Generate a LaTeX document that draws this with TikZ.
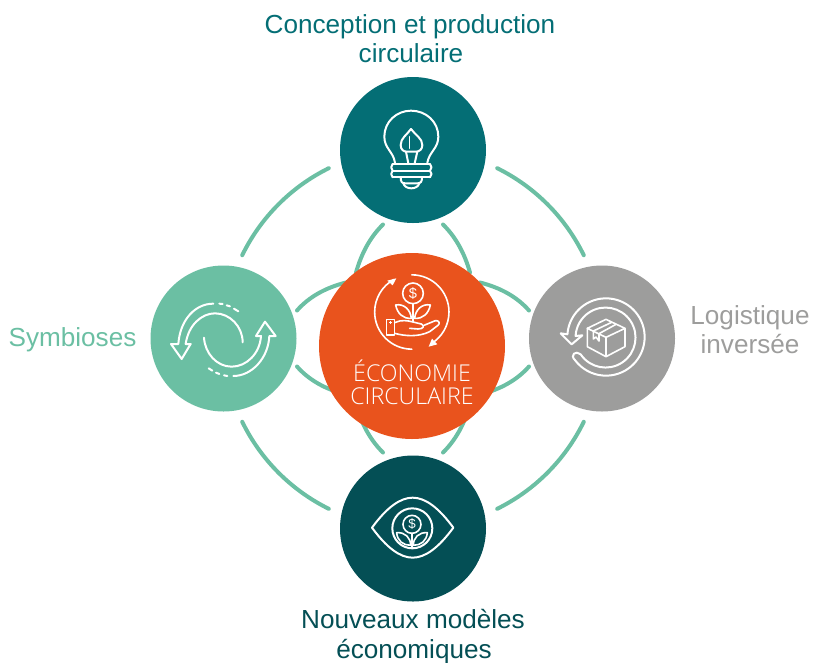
\documentclass[tikz,border=0pt]{standalone}
\usepackage{fontspec}
\setmainfont{Liberation Sans}
\newfontfamily\lightf{Open Sans Light}
\definecolor{cTop}{HTML}{046E75}
\definecolor{cLeft}{HTML}{6BBFA3}
\definecolor{cRight}{HTML}{9D9D9C}
\definecolor{cBot}{HTML}{044F55}
\definecolor{cMid}{HTML}{E9531D}
\tikzset{
  ring/.style={draw=cLeft,line width=3pt,line cap=round},
  disc/.style={circle,inner sep=0pt,minimum size=#1*0.75pt},
  icon/.style={draw=white,line width=1.5pt,line join=round,line cap=round},
  thin icon/.style={draw=white,line width=1.2pt,line join=round,line cap=round},
  lab/.style={anchor=base,inner sep=0pt,font=\fontsize{19.6pt}{21pt}\selectfont},
  midlab/.style={anchor=base,inner sep=0pt,text=white,font=\lightf\fontsize{17.4pt}{19pt}\selectfont},
}
\begin{document}
\begin{tikzpicture}[x=0.75pt,y=-0.75pt]
\useasboundingbox (0,0) rectangle (814,662);
% rings
\foreach \sx/\sy in {1/1,-1/1,1/-1,-1/-1}{
\begin{scope}[shift={(413,338.5)},xscale=\sx,yscale=\sy]
  \draw[ring] (243.7:190) arc[start angle=243.7,end angle=206,radius=190];
  \draw[ring] (-30,-114) .. controls (-42.3,-102) and (-51.3,-86) .. (-57,-66);
  \draw[ring] (-116,-28) .. controls (-104.3,-41.3) and (-88,-50.7) .. (-67,-56);
\end{scope}}
% discs
\node[disc=146,fill=cTop] (top) at (413,150) {};
\node[disc=146,fill=cLeft] (left) at (223.5,338.5) {};
\node[disc=146,fill=cRight] (right) at (602,338.5) {};
\node[disc=146,fill=cBot] (bot) at (413,528.5) {};
\node[disc=186,fill=cMid] (mid) at (412,346) {};
% bulb
\begin{scope}[shift={(340,80)},scale=0.3333]
  \draw[icon] (165,248) .. controls (160,215) and (133,205) .. (133,170) .. controls (133,125) and (170,92) .. (213,92) .. controls (258,92) and (295,125) .. (295,170) .. controls (295,205) and (268,215) .. (262,248);
  \draw[icon] (158,252) -- (270,252) (158,272) -- (270,272) (158,292) -- (270,292);
  \draw[icon] (158,252) .. controls (152,258) and (152,266) .. (158,272) .. controls (152,278) and (152,286) .. (158,292);
  \draw[icon] (270,252) .. controls (276,258) and (276,266) .. (270,272) .. controls (276,278) and (276,286) .. (270,292);
  \draw[icon] (182,292) .. controls (182,306) and (186,310) .. (196,310) -- (232,310) .. controls (242,310) and (246,306) .. (246,292);
  \draw[icon] (190,310) .. controls (195,330) and (233,330) .. (238,310);
  \draw[icon] (213,147) .. controls (200,165) and (182,175) .. (182,195) .. controls (182,208) and (190,215) .. (200,215) -- (228,215) .. controls (238,215) and (247,208) .. (247,195) .. controls (247,175) and (226,165) .. (213,147) -- cycle;
  \draw[thin icon] (208,170) -- (208,205);
  \draw[icon] (198,215) -- (205,250) (232,215) -- (224,250);
\end{scope}
% cycle arrows
\begin{scope}[shift={(150,265)},scale=0.3333]
  \draw[icon] (190,116) .. controls (135,116) and (90,165) .. (85,237) -- (63,237) -- (95,282) -- (122,237) -- (107,237) .. controls (115,180) and (155,145) .. (195,145) .. controls (240,145) and (278,185) .. (278,232);
  \draw[icon] (208,116) -- (218,117) (230,121) -- (240,124) (252,131) -- (265,139);
  \draw[icon] (162,218) .. controls (165,265) and (200,305) .. (245,305) .. controls (290,305) and (330,265) .. (333,213) -- (318,213) -- (345,170) -- (377,213) -- (358,213) .. controls (355,280) and (305,333) .. (250,333);
  \draw[icon] (232,333) -- (222,331) (208,327) -- (198,323) (187,317) -- (176,310);
\end{scope}
% box
\begin{scope}[shift={(530,265)},scale=0.3333]
  \draw[icon] ([shift={(184:116)}]228,216) arc[start angle=184,end angle=503,radius=116]
     .. controls (118,270) and (138,255) .. (152,268)
     arc[start angle=506,end angle=183,radius=90] -- (157,211) -- (125,238) -- (92,205) -- cycle;
  \draw[thin icon] (172,190) -- (228,163) -- (285,190) -- (228,217) -- cycle;
  \draw[thin icon] (172,190) -- (172,245) -- (228,275) -- (285,245) -- (285,190) (228,217) -- (228,275);
  \draw[thin icon] (190,198) -- (245,172) (207,206) -- (258,178);
  \draw[thin icon] (190,198) -- (190,222) -- (198,216) -- (207,228) -- (207,206);
\end{scope}
% eye
\begin{scope}[shift={(340,456)},scale=0.3333]
  \draw[icon] (96,215) .. controls (140,155) and (180,125) .. (218,125) .. controls (256,125) and (296,155) .. (340,215) .. controls (296,275) and (256,305) .. (218,305) .. controls (180,305) and (140,275) .. (96,215) -- cycle;
  \node[circle,draw=white,line width=1.5pt,inner sep=0pt,minimum size=30pt] (iris) at (217,217) {};
  \node[circle,draw=white,line width=1.2pt,inner sep=0pt,minimum size=13.5pt,text=white,font=\fontsize{10pt}{10pt}\selectfont] (coinA) at (216,205) {\$};
  \draw[thin icon] (216,232) -- (216,275);
  \draw[thin icon] (170,230) .. controls (195,228) and (212,245) .. (212,268) .. controls (190,268) and (172,255) .. (170,230) -- cycle;
  \draw[thin icon] (262,230) .. controls (237,228) and (220,245) .. (220,268) .. controls (242,268) and (260,255) .. (262,230) -- cycle;
\end{scope}
% central icon
\begin{scope}[shift={(318,250)},scale=0.3333]
  \draw[thin icon] ([shift={(90:111.5)}]281.5,186) arc[start angle=90,end angle=241,radius=111.5];
  \draw[thin icon] ([shift={(270:111.5)}]281.5,186) arc[start angle=270,end angle=419,radius=111.5];
  \fill[white] (235,85) -- (208,92) -- (224,106) -- cycle;
  \fill[white] (332,290) -- (358,283) -- (342,266) -- cycle;
  \node[circle,draw=white,line width=1.2pt,inner sep=0pt,minimum size=15.5pt,text=white,font=\fontsize{11pt}{11pt}\selectfont] (coinB) at (285,130) {\$};
  \draw[thin icon] (285,161) -- (285,215);
  \draw[thin icon] (233,165) .. controls (258,160) and (278,180) .. (280,205) .. controls (255,207) and (238,190) .. (233,165) -- cycle;
  \draw[thin icon] (337,165) .. controls (312,160) and (292,180) .. (290,205) .. controls (315,207) and (332,190) .. (337,165) -- cycle;
  \draw[thin icon] (206,208) rectangle (230,255);
  \draw[thin icon] (230,218) .. controls (250,208) and (270,212) .. (285,216) -- (310,222) .. controls (322,228) and (316,237) .. (300,237) -- (275,235);
  \draw[thin icon] (318,226) -- (352,212) .. controls (362,210) and (368,220) .. (360,226) -- (335,245) .. controls (300,262) and (260,258) .. (230,250);
  \draw[draw=white,line width=0.8pt] (214,218) -- (222,218) (218,214) -- (218,222);
\end{scope}
% labels
\node[midlab] (m1) at (412,381) {ÉCONOMIE};
\node[midlab] (m2) at (412,404) {CIRCULAIRE};
\node[lab,text=cTop] (t1) at (410,33) {Conception et production};
\node[lab,text=cTop] (t2) at (411,62) {circulaire};
\node[lab,text=cBot] (b1) at (413,628) {Nouveaux modèles};
\node[lab,text=cBot] (b2) at (414,658) {économiques};
\node[lab,text=cRight] (r1) at (750,324) {Logistique};
\node[lab,text=cRight] (r2) at (750,353) {inversée};
\node[lab,text=cLeft] (l1) at (72.5,346) {Symbioses};
\end{tikzpicture}
\end{document}
